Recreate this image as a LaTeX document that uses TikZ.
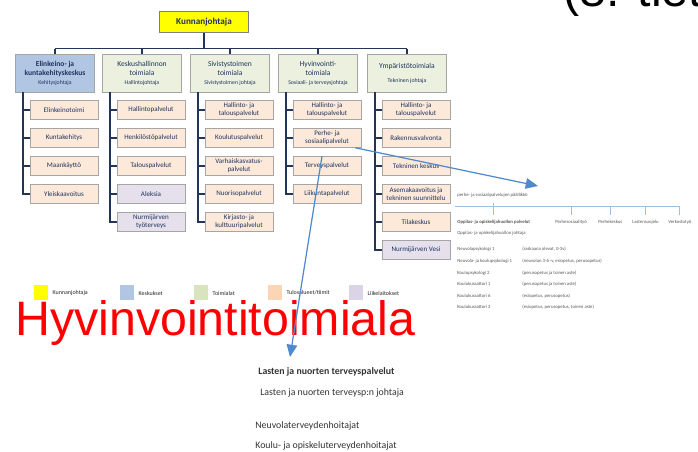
\documentclass[tikz,border=0pt]{standalone}
\usepackage{fontspec}
\setmainfont{Carlito}
\newfontfamily\slidefont{Liberation Sans}
\usetikzlibrary{arrows.meta,shadows}

\definecolor{OrgYellow}{RGB}{255,255,0}
\definecolor{OrgBlue}{RGB}{176,198,226}
\definecolor{OrgGreen}{RGB}{235,241,222}
\definecolor{OrgPeach}{RGB}{253,233,217}
\definecolor{OrgLilac}{RGB}{229,224,236}
\definecolor{KeyGreen}{RGB}{215,228,189}
\definecolor{KeyPeach}{RGB}{252,213,180}
\definecolor{KeyLilac}{RGB}{218,212,230}
\definecolor{OrgEdge}{RGB}{165,165,165}
\definecolor{OrgLine}{RGB}{36,52,86}
\definecolor{OrgText}{RGB}{30,52,96}
\definecolor{ArrowBlue}{RGB}{78,138,205}
\definecolor{FragText}{RGB}{85,85,85}
\definecolor{FragLine}{RGB}{160,190,222}

\begin{document}
\begin{tikzpicture}[x=0.02cm,y=-0.02cm,
  orgbox/.style={draw=OrgEdge,line width=0.35pt,align=center,text=OrgText,inner sep=1pt,
    drop shadow={shadow xshift=0.5pt,shadow yshift=-0.5pt,fill=black,opacity=0.2}},
  chief/.style={orgbox,fill=OrgYellow,draw=black!50,minimum width=1.78cm,minimum height=0.42cm,
    font=\fontsize{5.2}{6}\selectfont\bfseries},
  branch/.style={orgbox,fill=OrgGreen,minimum width=1.58cm,minimum height=0.76cm,
    font=\fontsize{4.3}{5.1}\selectfont},
  centre/.style={branch,fill=OrgBlue},
  unit/.style={orgbox,fill=OrgPeach,minimum width=1.36cm,minimum height=0.38cm,
    font=\fontsize{4}{4.7}\selectfont},
  plant/.style={unit,fill=OrgLilac},
  orgline/.style={OrgLine,line width=0.9pt},
  swatch/.style={minimum size=0.3cm,inner sep=0pt},
  keytext/.style={anchor=west,font=\fontsize{3.4}{4}\selectfont,text=black!85,inner sep=0pt},
  fragtext/.style={anchor=base west,font=\fontsize{2.7}{3}\selectfont,text=FragText,
    inner xsep=0pt,inner ysep=3pt},
  fragline/.style={FragLine,line width=0.4pt},
  bodytext/.style={anchor=base west,font=\fontsize{5.6}{6.4}\selectfont,text=black!80,inner sep=0pt},
  slidetext/.style={anchor=base west,font=\slidefont\fontsize{27.5}{28}\selectfont,inner sep=0pt},
  connector/.style={ArrowBlue,line width=0.7pt,-{Triangle[length=7pt,width=6pt]}}]
  % Coordinates are pixels of the slide, y counted downwards.
  \newcommand{\unithead}[1]{{\fontsize{3.3}{4}\selectfont #1}}
  \path[use as bounding box] (0,0) rectangle (698,452);
  \clip (0,0) rectangle (698,452);

  \node[chief] (kj) at (204,22) {Kunnanjohtaja};
  \node[centre] (t1) at (55,73)
    {\textbf{Elinkeino- ja}\\\textbf{kuntakehityskeskus}\\\unithead{Kehitysjohtaja}};
  \node[branch] (t2) at (142,73) {Keskushallinnon\\toimiala\\\unithead{Hallintojohtaja}};
  \node[branch] (t3) at (230,73) {Sivistystoimen\\toimiala\\\unithead{Sivistystoimen johtaja}};
  \node[branch] (t4) at (318,73) {Hyvinvointi-\\toimiala\\\unithead{Sosiaali- ja terveysjohtaja}};
  \node[branch] (t5) at (407,73) {Ympäristötoimiala\\[3pt]\unithead{Tekninen johtaja}};

  \coordinate (bus) at ([yshift=0.1cm]t1.north);
  \draw[orgline] (kj.south) -- (kj.south |- bus);
  \draw[orgline] (bus) -- (bus -| t5.north);
  \foreach \t in {t1,t2,t3,t4,t5}
    \draw[orgline] (\t.north |- bus) -- (\t.north);

  \foreach \col/\cx/\units in {
    1/64/{Elinkeinotoimi/unit,Kuntakehitys/unit,Maankäyttö/unit,Yleiskaavoitus/unit},
    2/151/{Hallintopalvelut/unit,Henkilöstöpalvelut/unit,Talouspalvelut/unit,Aleksia/plant,
      {Nurmijärven\\työterveys}/plant},
    3/239/{{Hallinto- ja\\talouspalvelut}/unit,Koulutuspalvelut/unit,
      {Varhaiskasvatus-\\palvelut}/unit,Nuorisopalvelut/unit,{Kirjasto- ja\\kulttuuripalvelut}/unit},
    4/327/{{Hallinto- ja\\talouspalvelut}/unit,{Perhe- ja\\sosiaalipalvelut}/unit,
      Terveyspalvelut/unit,Liikuntapalvelut/unit},
    5/416/{{Hallinto- ja\\talouspalvelut}/unit,Rakennusvalvonta/unit,Tekninen keskus/unit,
      {Asemakaavoitus ja\\tekninen suunnittelu}/unit,Tilakeskus/unit,Nurmijärven Vesi/plant}} {
    \foreach \lab/\kind [count=\row] in \units {
      \node[\kind] (u\col-\row) at (\cx,{82+28*\row}) {\lab};
      \draw[orgline] ([xshift=0.16cm]t\col.south west) |- (u\col-\row.west);
    }
  }

  \foreach \kx/\kfill/\klab [count=\k] in {33/OrgYellow/Kunnanjohtaja,119/OrgBlue/Keskukset,
      193/KeyGreen/Toimialat,267/KeyPeach/{Tulosalueet/tiimit},348/KeyLilac/Liikelaitokset} {
    \node[swatch,fill=\kfill] (key\k) at (\kx+8,293) {};
    \node[keytext] (keylabel\k) at ([xshift=0.07cm]key\k.east) {\klab};
  }

  \node[slidetext,text=red] (hyvtitle) at (15,336) {Hyvinvointitoimiala};
  \node[slidetext,text=black] (slidehead) at (563,7) {(8. tiet};

  \node[fragtext] (psjohto) at (457,197) {perhe- ja sosiaalipalvelujen päällikkö};
  \node[fragtext,font=\fontsize{2.7}{3}\selectfont\bfseries] (oppi) at (457,224)
    {Oppilas- ja opiskelijahuollon palvelut};
  \node[fragtext] (perhesos) at (555,224) {Perhesosiaalityö};
  \node[fragtext] (perhek) at (598,224) {Perhekeskus};
  \node[fragtext] (lastens) at (632,224) {Lastensuojelu};
  \node[fragtext] (verkosto) at (668,224) {Verkostotyö};
  \coordinate (fragbar) at (455,206);
  \draw[fragline] (fragbar) -- (fragbar -| verkosto.north);
  \draw[fragline] (oppi.north |- psjohto.south) -- (oppi.north);
  \foreach \n in {perhesos,perhek,lastens,verkosto}
    \draw[fragline] (fragbar -| \n.north) -- (\n.north);
  \node[fragtext] (oppijohto) at (457,235) {Oppilas- ja opiskelijahuollon johtaja};
  \foreach \ry/\who/\what [count=\s] in {
      251/{Neuvolapsykologi 1}/{(raskaana olevat, 0-3v)},
      263/{Neuvola- ja koulupsykologi 1}/{(neuvolan 3-6 -v, esiopetus, perusopetus)},
      275/{Koulupsykologi 2}/{(perusopetus ja toinen aste)},
      286/{Koulukuraattori 1}/{(perusopetus ja toinen aste)},
      298/{Koulukuraattori 6}/{(esiopetus, perusopetus)},
      309/{Koulukuraattori 2}/{(esiopetus, perusopetus, toinen aste)}} {
    \node[fragtext] (staff\s) at (457,\ry) {\who};
    \node[fragtext] (duty\s) at (522,\ry) {\what};
  }

  \node[bodytext,font=\fontsize{5.6}{6.4}\selectfont\bfseries] (lnts) at (258,375)
    {Lasten ja nuorten terveyspalvelut};
  \node[bodytext] (lntsjohto) at (260,396) {Lasten ja nuorten terveysp:n johtaja};
  \node[bodytext] (neuvolath) at (255,429) {Neuvolaterveydenhoitajat};
  \node[bodytext] (kouluth) at (255,449) {Koulu- ja opiskeluterveydenhoitajat};

  \coordinate (perhetip) at (538,186);
  \coordinate (terveystip) at (290,357);
  \draw[connector] ([xshift=-0.12cm]u4-2.south east) -- (perhetip);
  \draw[connector] ([xshift=-0.1cm]u4-3.north) -- (terveystip);
\end{tikzpicture}
\end{document}
